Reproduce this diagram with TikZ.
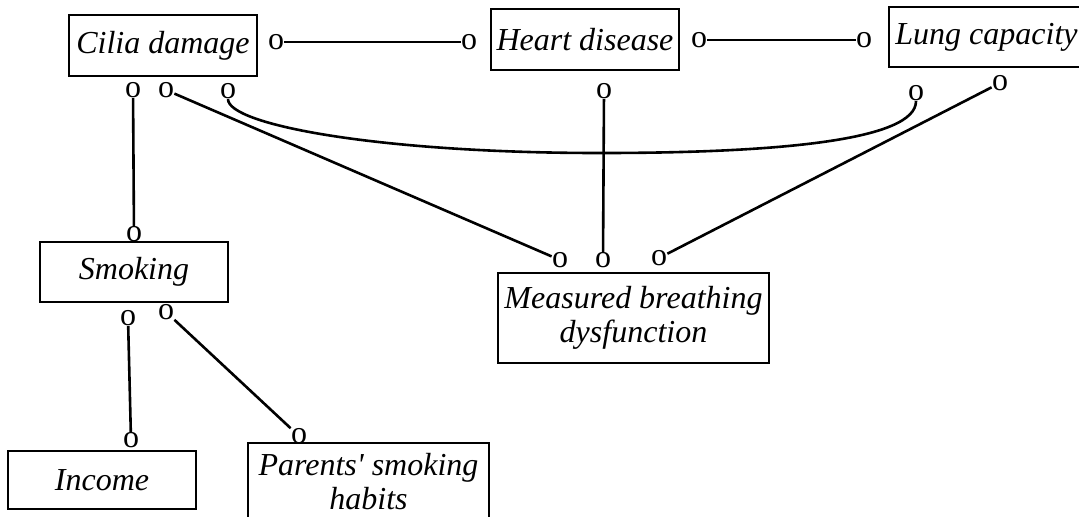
\documentclass[tikz,border=0pt]{standalone}
\usepackage{fontspec}
\setmainfont{Liberation Serif}
\tikzset{
  box/.style={draw, line width=1.4pt, inner sep=0pt, align=center,
    minimum width=94pt, minimum height=30pt,
    font=\fontsize{16}{17}\selectfont\itshape},
  endo/.style={inner sep=0pt, font=\fontsize{16}{17}\selectfont},
  link/.style={line width=1.3pt}
}

\begin{document}
\begin{tikzpicture}[x=0.5pt,y=-0.5pt]
  \useasboundingbox (0,0) rectangle (1079,516);
  % variables
  \node[box, minimum height=30.5pt] (cilia) at (163,45.5) {Cilia damage};
  \node[box, minimum height=30.5pt] (heart) at (585,39.5) {Heart disease};
  \node[box, minimum width=97.5pt] (lung) at (986.5,37) {Lung capacity};
  \node[box] (smoking) at (134,272) {Smoking};
  \node[box, minimum width=135.5pt, minimum height=45pt] (breath) at (633.5,318)
    {Measured breathing\\dysfunction};
  \node[box, minimum height=29pt] (income) at (102,480) {Income};
  \node[box, minimum width=120.5pt, minimum height=38.5pt] (parents) at (368.5,481.5)
    {Parents\textquotesingle{} smoking\\habits};
  % edge marks
  \node[endo] (ciliaR) at (276,42) {o};
  \node[endo] (heartL) at (469,42) {o};
  \node[endo] (heartR) at (699,40) {o};
  \node[endo] (lungL) at (864,40) {o};
  \node[endo] (ciliaA) at (133,90) {o};
  \node[endo] (ciliaB) at (166,90) {o};
  \node[endo] (ciliaC) at (228,91) {o};
  \node[endo] (heartB) at (604,91) {o};
  \node[endo] (lungA) at (916,93) {o};
  \node[endo] (lungB) at (1000,83) {o};
  \node[endo] (breathA) at (560,260) {o};
  \node[endo] (breathB) at (603,260) {o};
  \node[endo] (breathC) at (659,258) {o};
  \node[endo] (smokingT) at (134,234) {o};
  \node[endo] (smokingA) at (128,318) {o};
  \node[endo] (smokingB) at (166,312) {o};
  \node[endo] (incomeT) at (131,440) {o};
  \node[endo] (parentsT) at (299,436) {o};
  % edges
  \draw[link] (ciliaR) -- (heartL);
  \draw[link] (heartR) -- (lungL);
  \draw[link] (ciliaA) -- (smokingT);
  \draw[link] (ciliaB) -- (breathA);
  \draw[link] (heartB) -- (breathB);
  \draw[link] (lungB) -- (breathC);
  \draw[link] (ciliaC) .. controls (228,125) and (380,153) .. (600,153)
    .. controls (780,153) and (916,140) .. (lungA);
  \draw[link] (smokingA) -- (incomeT);
  \draw[link] (smokingB) -- (parentsT);
\end{tikzpicture}
\end{document}
